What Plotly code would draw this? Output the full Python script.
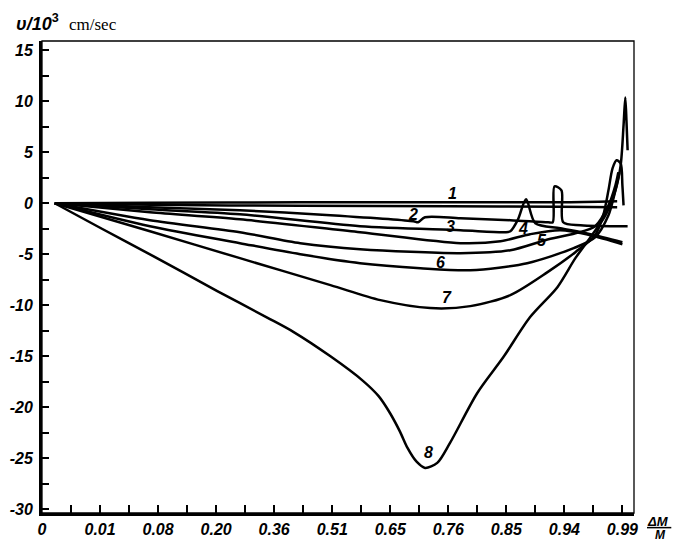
import plotly.graph_objects as go

# x positions are in units of the (non-uniform) ΔM/M tick scale: 0 -> "0", 1 -> "0.01", ... 10 -> "0.99"
tick_labels = ["0", "0.01", "0.08", "0.20", "0.36", "0.51", "0.65", "0.76", "0.85", "0.94", "0.99"]
y_ticks = [-30, -25, -20, -15, -10, -5, 0, 5, 10, 15]

c1_x = [0.22, 1.86, 4.45, 7.03, 8.93, 9.91]
c1_y = [0.0, 0.05, 0.10, 0.10, 0.10, 0.20]

c1b_x = [0.22, 1.86, 4.45, 7.03, 8.93, 9.91]
c1b_y = [0.0, -0.15, -0.25, -0.29, -0.35, -0.39]

c2_x = [0.22, 1.86, 3.41, 4.97, 6.40, 6.48, 6.60, 7.21, 8.07, 8.72, 8.80, 8.83, 8.95, 8.98, 9.28, 10.09]
c2_y = [0.0, -0.39, -0.68, -1.17, -1.76, -1.86, -1.37, -1.47, -1.66, -1.86, -1.86, 1.66, 1.27, -1.86, -2.15, -2.25]

c3_x = [0.22, 1.86, 3.41, 5.48, 7.21, 7.98, 8.07, 8.20, 8.34, 8.50, 8.93, 9.45, 10.00]
c3_y = [0.0, -0.59, -1.08, -2.25, -2.64, -2.84, -2.74, -1.6, 0.39, -1.96, -2.45, -3.03, -3.82]

c4_x = [0.22, 1.86, 3.41, 5.48, 7.21, 7.90, 8.41, 8.93, 9.45, 10.00]
c4_y = [0.0, -0.88, -1.57, -2.84, -3.91, -3.72, -3.03, -2.64, -3.13, -4.01]

c5_x = [0.22, 1.86, 3.41, 4.45, 5.48, 7.21, 8.07, 8.67, 9.19, 9.53, 9.76, 9.88, 9.93]
c5_y = [0.0, -1.66, -2.84, -3.91, -4.50, -4.89, -4.60, -3.62, -2.94, -2.25, -0.20, 1.76, 3.03]

c6_x = [0.22, 1.86, 3.41, 4.45, 5.48, 6.52, 7.38, 8.36, 9.16, 9.53, 9.76, 9.88, 9.95]
c6_y = [0.0, -2.25, -3.91, -4.99, -5.87, -6.36, -6.56, -5.87, -4.40, -3.33, -1.17, 1.27, 3.03]

c7_x = [0.22, 1.86, 3.41, 4.97, 5.83, 6.69, 7.38, 8.07, 8.71, 9.19, 9.53, 9.67, 9.76, 9.83, 9.90, 9.97, 10.00, 10.02]
c7_y = [0.0, -2.74, -5.38, -8.02, -9.49, -10.27, -10.08, -9.00, -6.75, -4.79, -3.13, -1.17, 1.27, 3.42, 4.21, 3.91, 1.76, -0.20]

c8_x = [0.22, 1.00, 1.86, 3.02, 3.88, 4.33, 4.97, 5.53, 5.80, 6.00, 6.17, 6.30, 6.45, 6.60, 6.81, 7.03, 7.50, 7.95, 8.41, 8.88, 9.19, 9.45, 9.71, 9.88, 9.97, 10.02, 10.05, 10.07, 10.09]
c8_y = [0.0, -2.4, -5.0, -8.6, -11.2, -12.6, -15.0, -17.4, -18.9, -20.6, -22.4, -24.0, -25.3, -25.93, -25.44, -23.48, -18.59, -15.07, -11.15, -8.22, -5.38, -3.33, -1.17, 1.27, 3.72, 7.63, 10.37, 8.12, 5.19]

curve_labels = ["1", "2", "3", "4", "5", "6", "7", "8"]
label_x = [7.07, 6.40, 7.03, 8.28, 8.62, 6.86, 6.98, 6.66]
label_y = [0.98, -1.08, -2.25, -2.45, -3.62, -5.77, -9.20, -24.46]

FONT = "Liberation Sans, Arial, sans-serif"


def bi(s):
    return "<b><i>" + s + "</i></b>"


fig = go.Figure()
curves = [(c1_x, c1_y), (c1b_x, c1b_y), (c2_x, c2_y), (c3_x, c3_y), (c4_x, c4_y),
          (c5_x, c5_y), (c6_x, c6_y), (c7_x, c7_y), (c8_x, c8_y)]
for xs, ys in curves:
    fig.add_trace(go.Scatter(
        x=xs, y=ys, mode="lines",
        line=dict(color="black", width=2.5, shape="spline", smoothing=0.8),
        showlegend=False, hoverinfo="skip"))

for t, lx, ly in zip(curve_labels, label_x, label_y):
    fig.add_annotation(x=lx, y=ly, text=bi(t), showarrow=False,
                       font=dict(family=FONT, size=16, color="black"))

tickfont = dict(family=FONT, size=16, color="black")

# page body has an 8px margin, so the figure is sized to fit the 680x541 window
fig.update_layout(
    width=672, height=533,
    margin=dict(l=34, r=46, t=33, b=28, autoexpand=False),
    paper_bgcolor="white", plot_bgcolor="white",
    xaxis=dict(
        range=[0, 10.2], showgrid=False, zeroline=False, automargin=False,
        showline=True, linewidth=2.5, linecolor="black",
        tickmode="array", tickvals=list(range(len(tick_labels))),
        ticktext=[bi(t) for t in tick_labels],
        ticks="inside", ticklen=8, tickwidth=1.5, tickcolor="black",
        minor=dict(tickmode="array", tickvals=[i + 0.5 for i in range(10)],
                   ticks="inside", ticklen=8, tickwidth=1.5, tickcolor="black"),
        tickfont=tickfont,
    ),
    yaxis=dict(
        range=[-30.35, 15.9], showgrid=False, zeroline=False, automargin=False,
        showline=True, linewidth=3, linecolor="black",
        tickmode="array", tickvals=y_ticks, ticktext=[bi(str(v)) for v in y_ticks],
        ticks="inside", ticklen=7, tickwidth=1.5, tickcolor="black",
        minor=dict(tickmode="array", tickvals=[v + 2.5 for v in y_ticks[:-1]],
                   ticks="inside", ticklen=7, tickwidth=1.5, tickcolor="black"),
        tickfont=tickfont,
        ticklabelstandoff=3,
    ),
)

# thin top/right frame
fig.add_shape(type="rect", xref="paper", yref="paper", x0=0, x1=1, y0=0, y1=1,
              line=dict(color="black", width=1.3), layer="below")

# y-axis unit title
fig.add_annotation(xref="paper", yref="paper", x=-0.047, y=1.0, yshift=5,
                   xanchor="left", yanchor="bottom", showarrow=False,
                   text=bi("υ/10") + "<sup><b>3</b></sup>",
                   font=dict(family=FONT, size=18, color="black"))
fig.add_annotation(xref="paper", yref="paper", x=0.042, y=1.0, yshift=5,
                   xanchor="left", yanchor="bottom", showarrow=False,
                   text="cm/sec",
                   font=dict(family="Liberation Serif, Times New Roman, serif", size=17, color="black"))

# x-axis title as fraction ΔM / M
fig.add_annotation(xref="paper", yref="paper", x=1.021, y=0, yshift=0,
                   xanchor="left", yanchor="top", showarrow=False, borderpad=0,
                   text=bi("ΔM"),
                   font=dict(family=FONT, size=13, color="black"))
fig.add_annotation(xref="paper", yref="paper", x=1.033, y=0, yshift=-14,
                   xanchor="left", yanchor="top", showarrow=False, borderpad=0,
                   text=bi("M"),
                   font=dict(family=FONT, size=12, color="black"))
fig.add_shape(type="line", xref="paper", yref="paper", x0=1.022, x1=1.063, y0=-0.031, y1=-0.031,
              line=dict(color="black", width=1.5))

fig.write_html("out.html")
